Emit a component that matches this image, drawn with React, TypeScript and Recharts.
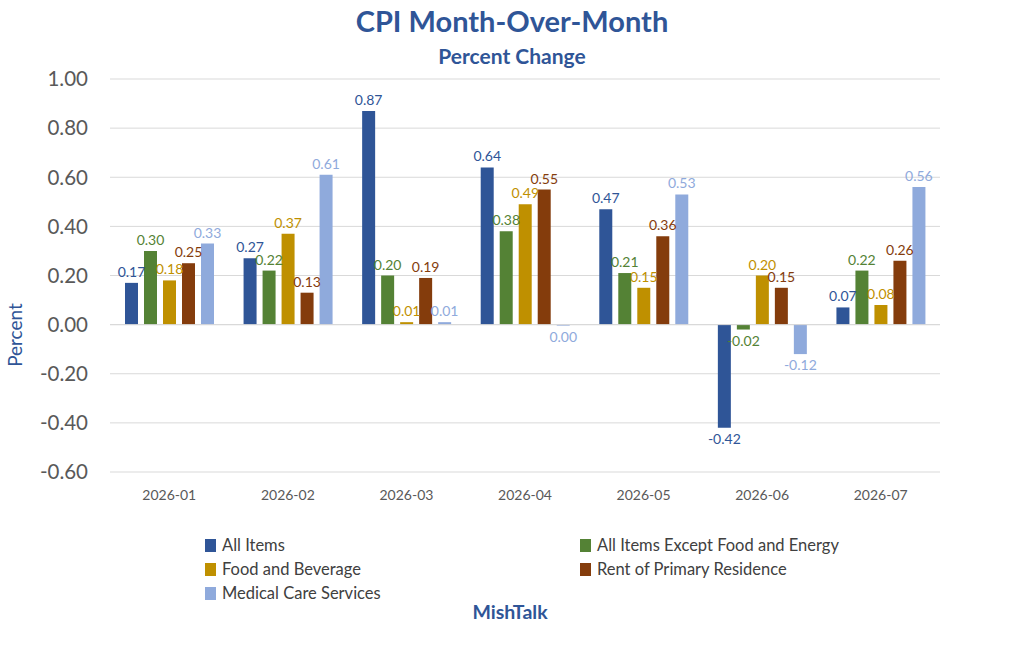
import React from 'react';
import { BarChart, Bar, XAxis, YAxis, CartesianGrid, ReferenceLine, LabelList } from 'recharts';

const months = ['2026-01', '2026-02', '2026-03', '2026-04', '2026-05', '2026-06', '2026-07'];
const allItems = [0.17, 0.27, 0.87, 0.64, 0.47, -0.42, 0.07];
const coreItems = [0.30, 0.22, 0.20, 0.38, 0.21, -0.02, 0.22];
const foodBeverage = [0.18, 0.37, 0.01, 0.49, 0.15, 0.20, 0.08];
const rentPrimary = [0.25, 0.13, 0.19, 0.55, 0.36, 0.15, 0.26];
const medicalCare = [0.33, 0.61, 0.01, -0.004, 0.53, -0.12, 0.56];
const yTicks = [-0.6, -0.4, -0.2, 0, 0.2, 0.4, 0.6, 0.8, 1.0];

const seriesDefs = [
  { key: 'all', name: 'All Items', values: allItems, color: '#2F5597' },
  { key: 'core', name: 'All Items Except Food and Energy', values: coreItems, color: '#548235' },
  { key: 'food', name: 'Food and Beverage', values: foodBeverage, color: '#BF9000' },
  { key: 'rent', name: 'Rent of Primary Residence', values: rentPrimary, color: '#843C0C' },
  { key: 'med', name: 'Medical Care Services', values: medicalCare, color: '#8FAADC' },
];

const data = months.map((m, i) => {
  const row: any = { month: m };
  seriesDefs.forEach((s) => { row[s.key] = s.values[i]; });
  return row;
});

const FONT = 'Lato, "Noto Sans", sans-serif';
const fmt = (v: number) => (Math.abs(v) < 0.005 ? '0.00' : v.toFixed(2));

const makeLabel = (color: string) => (props: any) => {
  const { x, y, width, height, value } = props;
  const top = Math.min(y, y + height);
  const bottom = Math.max(y, y + height);
  const cx = x + width / 2;
  const ty = value >= 0 ? top - 6 : bottom + 16;
  return (
    <text x={cx} y={ty} fill={color} fontSize={14} fontFamily={FONT} textAnchor="middle">
      {fmt(value)}
    </text>
  );
};

const legendRows = [
  [seriesDefs[0], seriesDefs[1]],
  [seriesDefs[2], seriesDefs[3]],
  [seriesDefs[4]],
];

export default function App() {
  return (
    <div style={{ position: 'absolute', left: 0, top: 0, width: 1024, height: 662, background: '#fff', fontFamily: FONT }}>
      <div style={{ position: 'absolute', top: 3, left: 0, width: 1024, textAlign: 'center', color: '#2F5597', fontWeight: 700, fontSize: 29 }}>
        CPI Month-Over-Month
      </div>
      <div style={{ position: 'absolute', top: 43, left: 0, width: 1024, textAlign: 'center', color: '#2F5597', fontWeight: 700, fontSize: 21 }}>
        Percent Change
      </div>
      <div style={{ position: 'absolute', left: 14, top: 335, width: 0, height: 0 }}>
        <div style={{ position: 'absolute', transform: 'translate(-50%, -50%) rotate(-90deg)', whiteSpace: 'nowrap', color: '#2F5597', fontSize: 19 }}>
          Percent
        </div>
      </div>
      <BarChart
        width={1024}
        height={662}
        data={data}
        margin={{ top: 79, right: 84, bottom: 160, left: 0 }}
        barCategoryGap="12.5%"
        barGap={6}
      >
        <CartesianGrid vertical={false} stroke="#d9d9d9" />
        <XAxis
          dataKey="month"
          axisLine={false}
          tickLine={false}
          height={30}
          tickMargin={12}
          tick={{ fill: '#595959', fontSize: 14, fontFamily: FONT }}
        />
        <YAxis
          width={110}
          domain={[-0.6, 1.0]}
          ticks={yTicks}
          interval={0}
          axisLine={false}
          tickLine={false}
          tickMargin={16}
          tickFormatter={(v: number) => v.toFixed(2)}
          tick={{ fill: '#595959', fontSize: 20.5, fontFamily: FONT }}
        />
        <ReferenceLine y={0} stroke="#d9d9d9" />
        {seriesDefs.map((s) => (
          <Bar key={s.key} dataKey={s.key} name={s.name} fill={s.color} barSize={13} isAnimationActive={false}>
            <LabelList dataKey={s.key} content={makeLabel(s.color)} />
          </Bar>
        ))}
      </BarChart>
      {legendRows.map((row, ri) => (
        row.map((s, ci) => (
          <div key={s.key} style={{ position: 'absolute', left: ci === 0 ? 205 : 580, top: 535 + ri * 24, display: 'flex', alignItems: 'center', fontSize: 16.5, color: '#404040' }}>
            <span style={{ display: 'inline-block', width: 11, height: 13, background: s.color, marginRight: 6 }} />
            {s.name}
          </div>
        ))
      ))}
      <div style={{ position: 'absolute', top: 600, left: 0, width: 1020, textAlign: 'center', color: '#2F5597', fontWeight: 700, fontSize: 19.5 }}>
        MishTalk
      </div>
    </div>
  );
}
